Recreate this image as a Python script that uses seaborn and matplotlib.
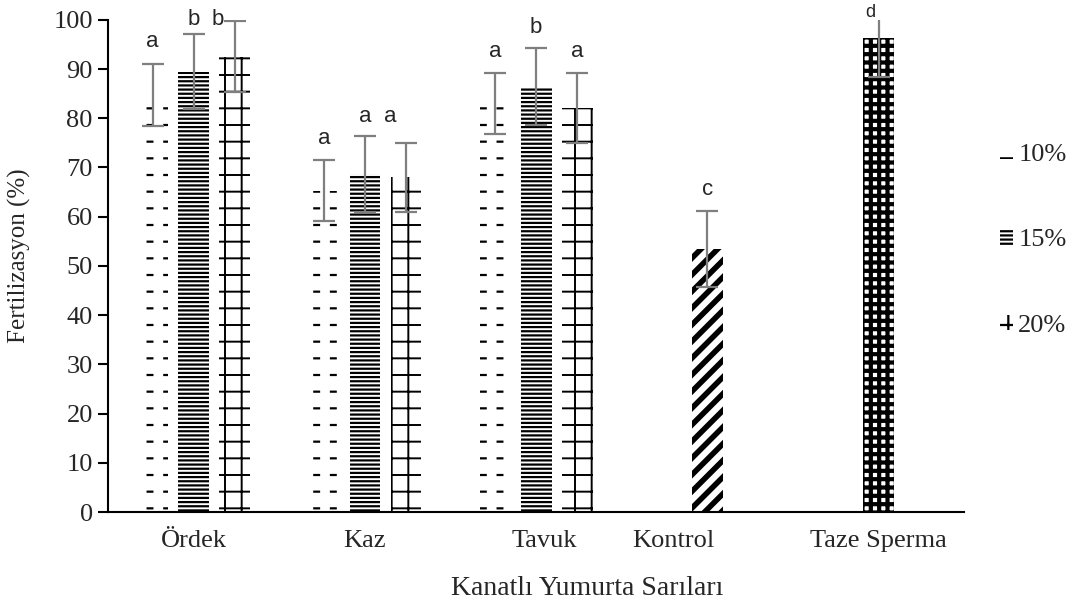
import numpy as np
import pandas as pd
import matplotlib
matplotlib.use('Agg')
import matplotlib.pyplot as plt
from matplotlib.patches import Patch, Rectangle
import seaborn as sns

# veriler
groups = ['Ördek', 'Kaz', 'Tavuk', 'Kontrol', 'Taze Sperma']
levels = ['10%', '15%', '20%']

mean_10 = [84.8, 65.3, 83.0]
mean_15 = [89.5, 68.7, 86.4]
mean_20 = [92.5, 68.0, 82.1]
sd_10 = [6.3, 6.2, 6.2]
sd_15 = [7.7, 7.7, 7.8]
sd_20 = [7.2, 7.0, 7.1]

# Kontrol ve Taze Sperma tek çubuk
mean_single = [53.5, 96.3]
sd_single = [7.7, 7.9]

# istatistik harfleri ve yükseklikleri
letters_10 = ['a', 'a', 'a']
letters_15 = ['b', 'a', 'b']
letters_20 = ['b', 'a', 'a']
letters_single = ['c', 'd']
letter_y_10 = [95.5, 75.8, 93.6]
letter_y_15 = [100.0, 80.3, 98.5]
letter_y_20 = [100.0, 80.3, 93.6]
letter_y_single = [65.5, 101.5]

rows = []
for lvl, m, s, lt, ly in [('10%', mean_10, sd_10, letters_10, letter_y_10),
                          ('15%', mean_15, sd_15, letters_15, letter_y_15),
                          ('20%', mean_20, sd_20, letters_20, letter_y_20)]:
    for g, v, e, t, y in zip(groups[:3], m, s, lt, ly):
        rows.append([g, lvl, v, e, t, y, lvl])
for g, v, e, t, y in zip(groups[3:], mean_single, sd_single, letters_single, letter_y_single):
    rows.append([g, '15%', v, e, t, y, g])
df = pd.DataFrame(rows, columns=['grup', 'oran', 'deger', 'sd', 'harf', 'harf_y', 'desen'])

# harflerin yatay kayması (çubuk merkezine göre)
letter_dx = {('Ördek', '20%'): -0.1, ('Kaz', '20%'): -0.09, ('Taze Sperma', '15%'): -0.05}

hatches = {'10%': '-', '15%': '----', '20%': '+', 'Kontrol': '//', 'Taze Sperma': '++'}
hatch_lw = {'10%': 1.6, '15%': 1.6, '20%': 1.4, 'Kontrol': 4.0, 'Taze Sperma': 3.0}

sns.set_style('white')
plt.rcParams['font.family'] = ['Liberation Serif', 'DejaVu Serif']
plt.rcParams['hatch.linewidth'] = 1.6

fig = plt.figure(figsize=(10.87, 6.01), dpi=100)
ax = fig.add_axes([0.0994, 0.148, 0.7877, 0.819])

sns.barplot(data=df, x='grup', y='deger', hue='oran', order=groups, hue_order=levels,
            errorbar=None, width=0.72, gap=0.25, legend=False, ax=ax)


def set_hlw(p, lw):
    if hasattr(p, 'set_hatch_linewidth'):
        p.set_hatch_linewidth(lw)


for bar in list(ax.patches):
    h = bar.get_height()
    if np.isnan(h) or h == 0:
        continue
    xc = bar.get_x() + bar.get_width() / 2
    i = int(round(xc))
    slot = int(round((xc - i) / 0.24)) + 1
    row = df[(df['grup'] == groups[i]) & (df['oran'] == levels[slot])].iloc[0]
    bar.set_facecolor('white')
    bar.set_edgecolor('black')
    bar.set_linewidth(0)
    bar.set_hatch(hatches[row['desen']])
    set_hlw(bar, hatch_lw[row['desen']])
    if row['desen'] == '10%':
        # yatay çizgileri kesik hale getirmek için beyaz dikey desen
        cut = Rectangle((bar.get_x(), 0), bar.get_width(), h, facecolor='none',
                        edgecolor='white', linewidth=0, hatch='|', zorder=bar.get_zorder() + 0.1)
        ax.add_patch(cut)
        set_hlw(cut, 7.0)
    ax.errorbar(xc, h, yerr=row['sd'], fmt='none', ecolor='#7f7f7f',
                elinewidth=1.6, capsize=8, capthick=1.6, zorder=5)
    fs = 13 if row['harf'] == 'd' else 16
    dx = letter_dx.get((row['grup'], row['oran']), 0.0)
    ax.text(xc + dx, row['harf_y'], row['harf'], ha='center', va='center', fontsize=fs,
            family=['Liberation Sans', 'DejaVu Sans'], clip_on=False)

ax.set_ylim(0, 100)
ax.set_xlim(-0.5, 4.5)
ax.set_yticks(np.arange(0, 101, 10))
ax.set_xticks(np.arange(-0.5, 4.6, 1))
ax.set_xticklabels([])
label_shift = [0.0, 0.0, 0.05, -0.2, 0.0]
ax.set_xticks(np.arange(5) + np.array(label_shift), minor=True)
ax.set_xticklabels(groups, minor=True)
ax.tick_params(axis='x', which='minor', length=0, pad=13, labelsize=19)
ax.tick_params(axis='x', which='major', direction='out', length=7, width=1.5, color='black')
ax.tick_params(axis='y', direction='out', length=7, width=1.5, color='black',
               labelsize=19, pad=4, left=True)

for side in ['top', 'right']:
    ax.spines[side].set_visible(False)
for side in ['left', 'bottom']:
    ax.spines[side].set_color('black')
    ax.spines[side].set_linewidth(1.5)

ax.set_xlabel('Kanatlı Yumurta Sarıları', fontsize=20)
ax.set_ylabel('Fertilizasyon (%)', fontsize=18)
ax.xaxis.set_label_coords(0.56, -0.13)
ax.yaxis.set_label_coords(-0.09, 0.52)

handles = []
for lvl in levels:
    p = Patch(facecolor='white', edgecolor='black', linewidth=0, hatch=hatches[lvl], label=lvl)
    handles.append(p)
fig.legend(handles=handles, loc='center left', bbox_to_anchor=(0.898, 0.6),
           frameon=False, fontsize=19, handlelength=0.5, handleheight=0.5,
           handletextpad=0.2, labelspacing=2.4)

plt.savefig('out.png', dpi=100)
